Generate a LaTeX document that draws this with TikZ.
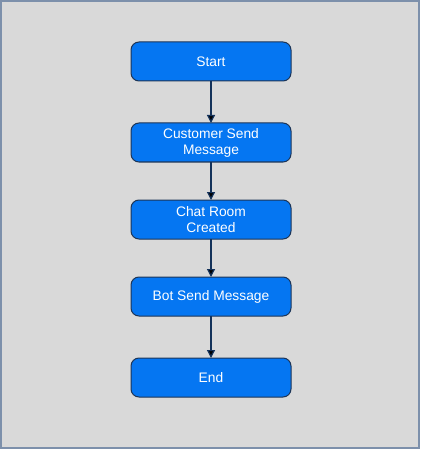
\documentclass[tikz,border=0pt]{standalone}
\usepackage{fontspec}
\setmainfont{Liberation Sans}
\usetikzlibrary{positioning, arrows.meta}

\definecolor{bgfill}{HTML}{D9D9D9}
\definecolor{bgline}{HTML}{7D90AB}
\definecolor{boxfill}{HTML}{0576F2}
\definecolor{boxline}{HTML}{1D3557}
\definecolor{arrowline}{HTML}{14325A}

\tikzset{
	stepbox/.style={draw=boxline, fill=boxfill, line width=1pt, rounded corners=8pt,
		minimum width=160pt, minimum height=39pt, align=center, text=white,
		font=\fontsize{13.8pt}{16pt}\selectfont, inner sep=2pt, outer sep=0pt},
	flow/.style={draw=arrowline, line width=1.2pt, -{Triangle[width=8pt,length=8pt]}}
}

\begin{document}
\begin{tikzpicture}[x=1pt, y=1pt]
	\useasboundingbox (0,0) rectangle (420,-449);
	\draw[bgline, fill=bgfill, line width=2pt] (1,-1) rectangle (419,-448);

	\node[stepbox] (S) at (211,-61.5) {Start};
	\node[stepbox] (CS) [below=42pt of S] {Customer Send\\Message};
	\node[stepbox] (CR) [below=38pt of CS] {Chat Room\\Created};
	\node[stepbox] (BS) [below=38pt of CR] {Bot Send Message};
	\node[stepbox] (E) [below=42pt of BS] {End};

	\path[flow]
	    (S) edge (CS)
	    (CS) edge (CR)
	    (CR) edge (BS)
	    (BS) edge (E);
\end{tikzpicture}
\end{document}
